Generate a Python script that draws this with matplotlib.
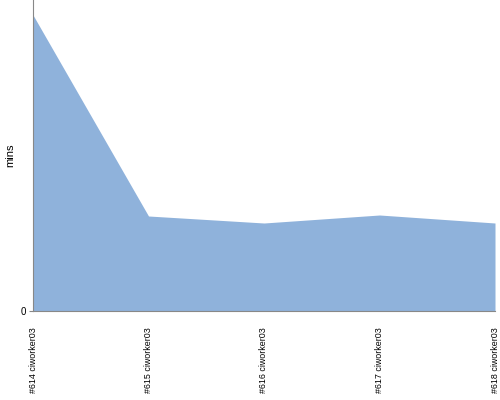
import matplotlib
matplotlib.use("Agg")
import matplotlib.pyplot as plt

# build labels and durations (mins)
builds = ["#614 ciworker03", "#615 ciworker03", "#616 ciworker03",
          "#617 ciworker03", "#618 ciworker03"]
mins = [29.6, 9.5, 8.8, 9.6, 8.8]

plt.rcParams['font.family'] = ['Liberation Sans', 'DejaVu Sans']

fig = plt.figure(figsize=(5, 4), dpi=100)
ax = fig.add_axes([0.066, 0.2225, 0.924, 0.7775])

x = list(range(len(builds)))
ax.fill_between(x, mins, 0, color="#8fb2db", linewidth=0)

ax.set_xlim(0, len(builds) - 1)
ax.set_ylim(0, 31.1)
ax.set_yticks([0])
ax.set_yticklabels(["0"], fontsize=7)
ax.set_xticks(x)
ax.set_xticklabels(builds, rotation=90, fontsize=6.4, va="top")
ax.set_ylabel("mins", fontsize=8)
ax.yaxis.set_label_coords(-0.038, 0.5)

for s in ["top", "right"]:
    ax.spines[s].set_visible(False)
for s in ["left", "bottom"]:
    ax.spines[s].set_color("#888888")
ax.tick_params(axis="y", length=3, color="#888888", pad=2)
ax.tick_params(axis="x", length=0, pad=12)

fig.savefig("out.png", dpi=100)
